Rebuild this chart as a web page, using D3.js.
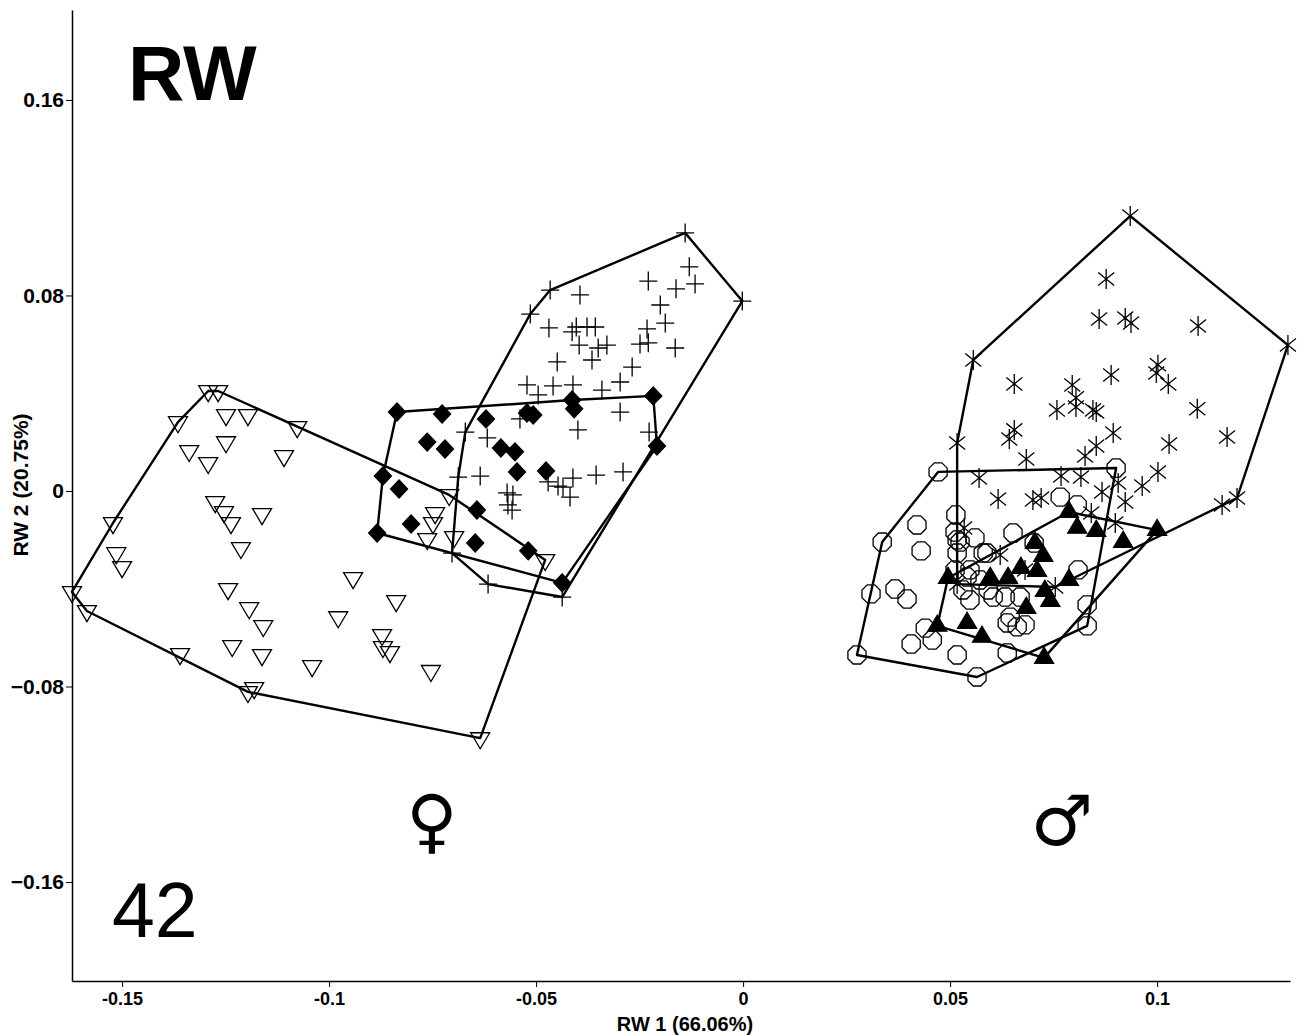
<!DOCTYPE html>
<html>
<head>
<meta charset="utf-8">
<script src="https://cdn.jsdelivr.net/npm/d3@7"></script>
<style>
  body { margin: 0; background: #fff; }
  svg { display: block; font-family: "Liberation Sans", Arial, sans-serif; }
</style>
</head>
<body>
<div id="chart"></div>
<script>
// RW 1 / RW 2 scores, one array per group: [rw1, rw2]
var triDownOpen = [
  [-0.1292,0.0409],[-0.1268,0.0409],[-0.1365,0.0282],[-0.1249,0.0311],[-0.1196,0.0311],
  [-0.1077,0.0262],[-0.1338,0.0164],[-0.1249,0.0200],[-0.1292,0.0115],[-0.1109,0.0143],
  [-0.1275,-0.0045],[-0.1254,-0.0086],[-0.1237,-0.0131],[-0.1162,-0.0094],[-0.1213,-0.0233],
  [-0.1522,-0.0131],[-0.1514,-0.0254],[-0.1500,-0.0311],[-0.1621,-0.0413],[-0.1585,-0.0491],
  [-0.1244,-0.0401],[-0.1193,-0.0479],[-0.1159,-0.0552],[-0.1234,-0.0634],[-0.1162,-0.0671],
  [-0.1360,-0.0667],[-0.1041,-0.0716],[-0.1196,-0.0822],[-0.1181,-0.0806],[-0.0942,-0.0356],
  [-0.0978,-0.0516],[-0.0710,-0.0016],[-0.0744,-0.0090],[-0.0749,-0.0131],[-0.0763,-0.0196],
  [-0.0698,-0.0188],[-0.0478,-0.0282],[-0.0838,-0.0450],[-0.0872,-0.0589],[-0.0870,-0.0638],
  [-0.0853,-0.0659],[-0.0754,-0.0736],[-0.0635,-0.1011]
];
var diamondFilled = [
  [-0.0836,0.0323],[-0.0727,0.0315],[-0.0621,0.0295],[-0.0522,0.0319],[-0.0507,0.0311],
  [-0.0413,0.0372],[-0.0408,0.0336],[-0.0217,0.0389],[-0.0208,0.0184],[-0.0763,0.0200],
  [-0.0720,0.0172],[-0.0585,0.0176],[-0.0551,0.0160],[-0.0546,0.0078],[-0.0476,0.0082],
  [-0.0870,0.0061],[-0.0831,0.0008],[-0.0643,-0.0078],[-0.0802,-0.0135],[-0.0884,-0.0172],
  [-0.0647,-0.0213],[-0.0519,-0.0245],[-0.0437,-0.0376]
];
var plusMark = [
  [-0.0140,0.1056],[-0.0002,0.0777],[-0.0130,0.0917],[-0.0116,0.0847],[-0.0229,0.0859],
  [-0.0162,0.0827],[-0.0200,0.0761],[-0.0188,0.0687],[-0.0232,0.0663],[-0.0164,0.0585],
  [-0.0249,0.0601],[-0.0229,0.0606],[-0.0268,0.0507],[-0.0297,0.0446],[-0.0466,0.0822],
  [-0.0514,0.0724],[-0.0394,0.0802],[-0.0469,0.0667],[-0.0403,0.0671],[-0.0413,0.0651],
  [-0.0377,0.0671],[-0.0357,0.0671],[-0.0396,0.0597],[-0.0350,0.0585],[-0.0329,0.0597],
  [-0.0449,0.0528],[-0.0365,0.0536],[-0.0522,0.0434],[-0.0459,0.0430],[-0.0411,0.0434],
  [-0.0495,0.0393],[-0.0341,0.0413],[-0.0297,0.0323],[-0.0399,0.0250],[-0.0539,0.0295],
  [-0.0618,0.0217],[-0.0671,0.0241],[-0.0227,0.0241],[-0.0688,0.0057],[-0.0635,0.0061],
  [-0.0411,0.0053],[-0.0355,0.0065],[-0.0290,0.0078],[-0.0471,0.0037],[-0.0447,0.0020],
  [-0.0418,-0.0025],[-0.0435,0.0016],[-0.0570,-0.0008],[-0.0556,-0.0016],[-0.0568,-0.0057],
  [-0.0558,-0.0078],[-0.0703,-0.0254],[-0.0616,-0.0381],[-0.0437,-0.0434]
];
var asterisk = [
  [0.0935,0.1125],[0.1316,0.0597],[0.0556,0.0536],[0.0877,0.0867],[0.0860,0.0704],
  [0.0923,0.0708],[0.0937,0.0687],[0.1099,0.0675],[0.1002,0.0516],[0.0998,0.0483],
  [0.1027,0.0438],[0.0889,0.0475],[0.0655,0.0438],[0.0795,0.0434],[0.0804,0.0381],
  [0.0804,0.0344],[0.0758,0.0331],[0.0845,0.0331],[0.0853,0.0323],[0.1097,0.0336],
  [0.1169,0.0221],[0.0655,0.0250],[0.0643,0.0213],[0.0684,0.0131],[0.0894,0.0237],
  [0.0853,0.0184],[0.0826,0.0143],[0.1029,0.0192],[0.0517,0.0196],[0.0570,0.0053],
  [0.0768,0.0061],[0.0816,0.0057],[0.1002,0.0078],[0.0616,-0.0033],[0.0700,-0.0037],
  [0.0720,-0.0029],[0.0867,-0.0004],[0.0906,0.0033],[0.0964,0.0020],[0.0923,-0.0045],
  [0.1157,-0.0057],[0.1193,-0.0029],[0.0841,-0.0090],[0.0899,-0.0131],[0.0534,-0.0151],
  [0.0621,-0.0262],[0.0681,-0.0323],[0.0754,-0.0393],[0.0517,-0.0381]
];
var circleOpen = [
  [0.0471,0.0078],[0.0901,0.0094],[0.0336,-0.0209],[0.0420,-0.0139],[0.0430,-0.0245],
  [0.0514,-0.0098],[0.0512,-0.0168],[0.0517,-0.0200],[0.0524,-0.0209],[0.0560,-0.0192],
  [0.0589,-0.0254],[0.0652,-0.0172],[0.0703,-0.0213],[0.0766,-0.0025],[0.0807,-0.0057],
  [0.0517,-0.0254],[0.0580,-0.0254],[0.0548,-0.0323],[0.0541,-0.0352],[0.0512,-0.0323],
  [0.0531,-0.0405],[0.0548,-0.0446],[0.0572,-0.0364],[0.0592,-0.0405],[0.0604,-0.0434],
  [0.0633,-0.0434],[0.0669,-0.0434],[0.0645,-0.0516],[0.0662,-0.0556],[0.0638,-0.0540],
  [0.0681,-0.0548],[0.0309,-0.0421],[0.0367,-0.0401],[0.0396,-0.0442],[0.0440,-0.0561],
  [0.0457,-0.0610],[0.0406,-0.0626],[0.0517,-0.0671],[0.0638,-0.0663],[0.0275,-0.0671],
  [0.0565,-0.0761],[0.0809,-0.0323],[0.0831,-0.0466],[0.0831,-0.0552]
];
var triUpFilled = [
  [0.0787,-0.0086],[0.0807,-0.0151],[0.0853,-0.0164],[0.0918,-0.0209],[0.1000,-0.0160],
  [0.0705,-0.0213],[0.0725,-0.0266],[0.0671,-0.0315],[0.0710,-0.0327],[0.0597,-0.0356],
  [0.0640,-0.0356],[0.0495,-0.0356],[0.0787,-0.0364],[0.0729,-0.0409],[0.0742,-0.0450],
  [0.0684,-0.0479],[0.0541,-0.0540],[0.0469,-0.0552],[0.0577,-0.0597],[0.0727,-0.0683]
];

var xTicks = [-0.15, -0.1, -0.05, 0, 0.05, 0.1];
var yTicks = [-0.16, -0.08, 0, 0.08, 0.16];
var xTitle = "RW 1 (66.06%)";
var yTitle = "RW 2 (20.75%)";

var width = 1302, height = 1035;
var svg = d3.select("#chart").append("svg")
    .attr("width", width)
    .attr("height", height);

var x = d3.scaleLinear().domain([-0.1621, 0.1321]).range([72, 1290]);
var y = d3.scaleLinear().domain([-0.2005, 0.1968]).range([981, 10]);

// marker shapes, all centred on 0,0
function triPath(up) {
    var w = 9.5, h = 16, s = up ? 1 : -1;
    return "M" + (-w) + "," + (s * h / 3) + "L" + w + "," + (s * h / 3) +
        "L0," + (-s * 2 * h / 3) + "Z";
}
var octPath = d3.range(8).map(function(i) {
    var a = Math.PI / 8 + i * Math.PI / 4;
    return [9.8 * Math.cos(a), 9.8 * Math.sin(a)];
});
octPath = "M" + octPath.join("L") + "Z";
var shapes = {
    triDown: triPath(false),
    triUp: triPath(true),
    diamond: "M0,-9L8.5,0L0,9L-8.5,0Z",
    plus: "M-9,0H9M0,-9.5V9.5",
    star: "M0,-10V10M-8,-6.5L8,6.5M-8,6.5L8,-6.5",
    circle: octPath
};

var groups = [
    {data: triDownOpen, shape: "triDown", fill: "none"},
    {data: diamondFilled, shape: "diamond", fill: "#000"},
    {data: plusMark, shape: "plus", fill: "none"},
    {data: asterisk, shape: "star", fill: "none"},
    {data: circleOpen, shape: "circle", fill: "none"},
    {data: triUpFilled, shape: "triUp", fill: "#000"}
];

var pts = svg.append("g");
groups.forEach(function(g) {
    pts.append("g").selectAll("path")
        .data(g.data)
        .enter().append("path")
        .attr("transform", d => "translate(" + x(d[0]) + "," + y(d[1]) + ")")
        .attr("d", shapes[g.shape])
        .attr("fill", g.fill)
        .attr("stroke", "#000")
        .attr("stroke-width", 1.3);
});

// convex hulls
var hullG = svg.append("g");
groups.forEach(function(g) {
    var hull = d3.polygonHull(g.data.map(d => [x(d[0]), y(d[1])]));
    hullG.append("path")
        .attr("d", "M" + hull.join("L") + "Z")
        .attr("fill", "none")
        .attr("stroke", "#000")
        .attr("stroke-width", 2.4)
        .attr("stroke-linejoin", "round");
});

// axes
var xAxis = svg.append("g")
    .attr("transform", "translate(0,981)")
    .call(d3.axisBottom(x).tickValues(xTicks).tickSize(6).tickSizeOuter(0)
        .tickPadding(5).tickFormat(d => d === 0 ? "0" : String(d)));
xAxis.select(".domain").attr("stroke-width", 1.5);
xAxis.selectAll("text").attr("font-size", 18).attr("font-weight", "bold").attr("fill", "#000");

var yAxis = svg.append("g")
    .attr("transform", "translate(72,0)")
    .call(d3.axisLeft(y).tickValues(yTicks).tickSize(6).tickSizeOuter(0)
        .tickPadding(2).tickFormat(d => d === 0 ? "0" : d3.format(".2f")(d)));
yAxis.select(".domain").attr("stroke-width", 1.5);
yAxis.selectAll("text").attr("font-size", 21).attr("font-weight", "bold").attr("fill", "#000");

svg.append("text")
    .attr("x", 685).attr("y", 1031)
    .attr("text-anchor", "middle")
    .attr("font-size", 20).attr("font-weight", "bold")
    .text(xTitle);

svg.append("text")
    .attr("transform", "translate(28,485) rotate(-90)")
    .attr("text-anchor", "middle")
    .attr("font-size", 21).attr("font-weight", "bold")
    .text(yTitle);

// panel labels
svg.append("text")
    .attr("x", 128).attr("y", 100)
    .attr("font-size", 78).attr("font-weight", "bold")
    .text("RW");
svg.append("text")
    .attr("x", 112).attr("y", 937)
    .attr("font-size", 77)
    .text("42");
svg.append("text")
    .attr("x", 432).attr("y", 845)
    .attr("text-anchor", "middle")
    .attr("font-family", "DejaVu Sans")
    .attr("font-size", 70)
    .text("\u2640");
svg.append("text")
    .attr("x", 1062).attr("y", 845)
    .attr("text-anchor", "middle")
    .attr("font-family", "DejaVu Sans")
    .attr("font-size", 70)
    .text("\u2642");
</script>
</body>
</html>
